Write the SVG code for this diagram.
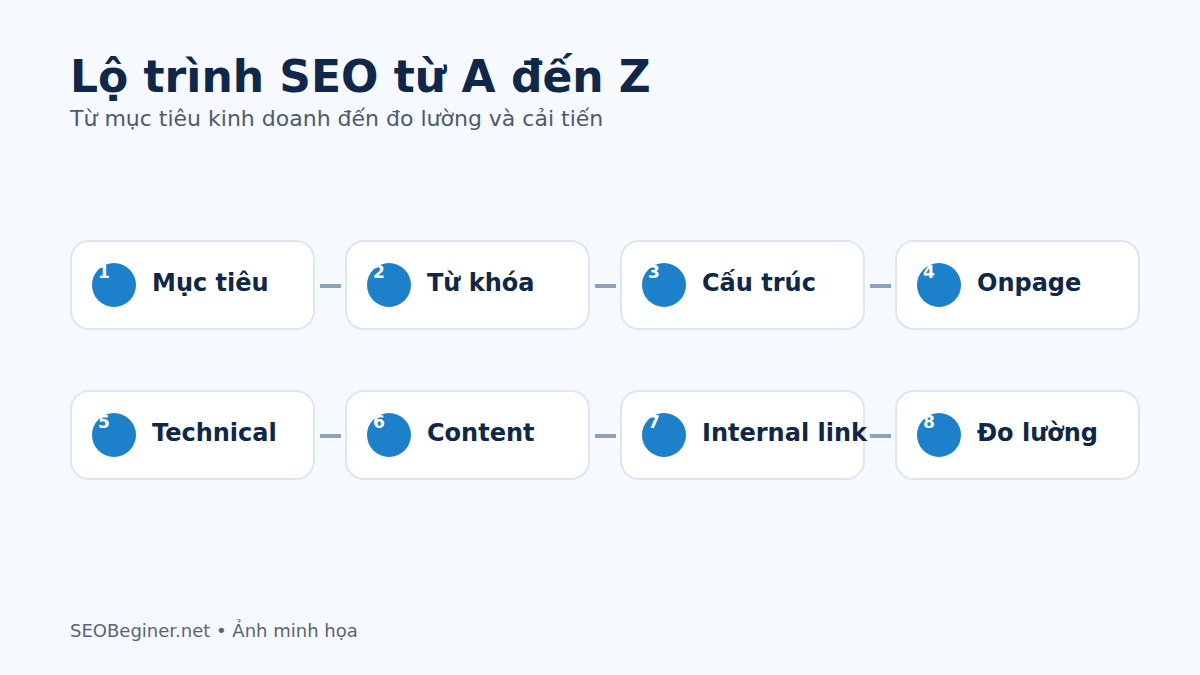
<svg xmlns="http://www.w3.org/2000/svg" width="1200" height="675" viewBox="0 0 1200 675">
<style>
.bg{fill:#f6f9fd}
.card{fill:#ffffff;stroke:#dde7f3;stroke-width:2}
.dot{fill:#1d80cb}
.num{font-family:"DejaVu Sans",sans-serif;font-weight:bold;font-size:17px;fill:#ffffff}
.lbl{font-family:"DejaVu Sans",sans-serif;font-weight:bold;font-size:24px;fill:#0f2748}
.title{font-family:"DejaVu Sans",sans-serif;font-weight:bold;font-size:44px;fill:#0f2748}
.sub{font-family:"DejaVu Sans",sans-serif;font-size:22px;fill:#4b5b72}
.foot{font-family:"DejaVu Sans",sans-serif;font-size:18px;fill:#56657a}
.conn{stroke:#8aa3ba;stroke-width:4}
</style>
<rect class="bg" x="0" y="0" width="1200" height="675"/>
<text class="title" x="70" y="92">Lộ trình SEO từ A đến Z</text>
<text class="sub" x="70" y="126">Từ mục tiêu kinh doanh đến đo lường và cải tiến</text>
<g id="connectors">
<line class="conn" x1="320" y1="286" x2="341" y2="286"/>
<line class="conn" x1="595" y1="286" x2="616" y2="286"/>
<line class="conn" x1="870" y1="286" x2="891" y2="286"/>
<line class="conn" x1="320" y1="436" x2="341" y2="436"/>
<line class="conn" x1="595" y1="436" x2="616" y2="436"/>
<line class="conn" x1="870" y1="436" x2="891" y2="436"/>
</g>
<g id="node1"><rect class="card" x="71" y="241" width="243" height="88" rx="18"/><circle class="dot" cx="114" cy="285" r="22"/><text class="num" x="98" y="278">1</text><text class="lbl" x="152" y="291">Mục tiêu</text></g>
<g id="node2"><rect class="card" x="346" y="241" width="243" height="88" rx="18"/><circle class="dot" cx="389" cy="285" r="22"/><text class="num" x="373" y="278">2</text><text class="lbl" x="427" y="291">Từ khóa</text></g>
<g id="node3"><rect class="card" x="621" y="241" width="243" height="88" rx="18"/><circle class="dot" cx="664" cy="285" r="22"/><text class="num" x="648" y="278">3</text><text class="lbl" x="702" y="291">Cấu trúc</text></g>
<g id="node4"><rect class="card" x="896" y="241" width="243" height="88" rx="18"/><circle class="dot" cx="939" cy="285" r="22"/><text class="num" x="923" y="278">4</text><text class="lbl" x="977" y="291">Onpage</text></g>
<g id="node5"><rect class="card" x="71" y="391" width="243" height="88" rx="18"/><circle class="dot" cx="114" cy="435" r="22"/><text class="num" x="98" y="428">5</text><text class="lbl" x="152" y="441">Technical</text></g>
<g id="node6"><rect class="card" x="346" y="391" width="243" height="88" rx="18"/><circle class="dot" cx="389" cy="435" r="22"/><text class="num" x="373" y="428">6</text><text class="lbl" x="427" y="441">Content</text></g>
<g id="node7"><rect class="card" x="621" y="391" width="243" height="88" rx="18"/><circle class="dot" cx="664" cy="435" r="22"/><text class="num" x="648" y="428">7</text><text class="lbl" x="702" y="441">Internal link</text></g>
<g id="node8"><rect class="card" x="896" y="391" width="243" height="88" rx="18"/><circle class="dot" cx="939" cy="435" r="22"/><text class="num" x="923" y="428">8</text><text class="lbl" x="977" y="441">Đo lường</text></g>
<text class="foot" x="70" y="637">SEOBeginer.net • Ảnh minh họa</text>
</svg>
